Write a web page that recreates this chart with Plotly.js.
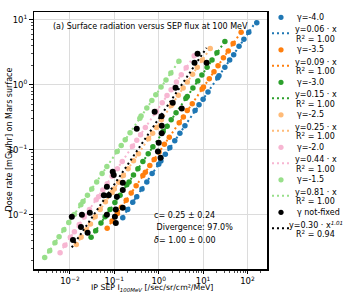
<!DOCTYPE html>
<html><head><meta charset="utf-8">
<script src="https://cdn.plot.ly/plotly-3.0.1.min.js"></script>
<style>html,body{margin:0;padding:0;background:#fff}#chart{width:348px;height:293px}</style>
</head><body><div id="chart"></div>
<script>
// ---------- data ----------
const seriesNames = ['γ=-4.0', 'γ=-3.5', 'γ=-3.0', 'γ=-2.5', 'γ=-2.0', 'γ=-1.5'];
const seriesColors = ['#1f77b4', '#ff7f0e', '#2ca02c', '#ffbb78', '#f7b6d2', '#98df8a'];
const fitCoef = [0.06, 0.09, 0.15, 0.25, 0.44, 0.81];
const fitR2 = ['1.00', '1.00', '1.00', '1.00', '1.00', '1.00'];

const x_g40 = [162, 107, 83.1, 64.5, 48.9, 39.7, 30.9, 22.8, 21.4, 12.9, 10.0, 8.1, 6.6, 3.9, 3.0, 2.3, 1.78, 1.41, 1.12, 1.0, 0.71, 0.54, 0.42, 0.32, 0.26, 0.20, 0.155];
const y_g40 = [9.0, 6.4, 5.0, 3.9, 2.9, 2.4, 1.85, 1.37, 1.28, 0.77, 0.60, 0.49, 0.40, 0.234, 0.18, 0.138, 0.107, 0.085, 0.067, 0.060, 0.043, 0.032, 0.025, 0.019, 0.0156, 0.012, 0.0090];

const x_g35 = [72, 47.6, 36.9, 28.7, 21.7, 17.6, 13.8, 10.2, 9.5, 5.7, 4.4, 3.6, 2.9, 1.73, 1.34, 1.02, 0.79, 0.63, 0.50, 0.44, 0.31, 0.24, 0.185, 0.144, 0.117, 0.089, 0.069];
const y_g35 = [6.4, 4.3, 3.3, 2.6, 1.95, 1.58, 1.24, 0.92, 0.86, 0.51, 0.40, 0.32, 0.26, 0.156, 0.121, 0.092, 0.071, 0.057, 0.045, 0.040, 0.028, 0.0216, 0.0167, 0.013, 0.0105, 0.008, 0.0062];

const x_g30 = [31, 20.5, 15.9, 12.3, 9.4, 7.6, 5.9, 4.4, 4.1, 2.46, 1.91, 1.55, 1.26, 0.74, 0.58, 0.44, 0.34, 0.27, 0.215, 0.191, 0.135, 0.103, 0.080, 0.062, 0.050, 0.038, 0.030];
const y_g30 = [4.6, 3.1, 2.4, 1.85, 1.41, 1.14, 0.89, 0.66, 0.62, 0.37, 0.29, 0.23, 0.19, 0.111, 0.087, 0.066, 0.051, 0.041, 0.032, 0.029, 0.020, 0.0155, 0.012, 0.0093, 0.0075, 0.0057, 0.0045];

const x_g25 = [14.5, 9.6, 7.4, 5.8, 4.4, 3.55, 2.77, 2.04, 1.91, 1.15, 0.89, 0.73, 0.59, 0.35, 0.27, 0.204, 0.160, 0.126, 0.100, 0.089, 0.063, 0.048, 0.037, 0.029, 0.0235, 0.0178, 0.0139];
const y_g25 = [3.6, 2.4, 1.85, 1.45, 1.1, 0.89, 0.69, 0.51, 0.48, 0.29, 0.22, 0.18, 0.148, 0.087, 0.068, 0.051, 0.040, 0.0315, 0.025, 0.022, 0.0158, 0.012, 0.0093, 0.0072, 0.0059, 0.0045, 0.0035];

const x_g20 = [6.3, 4.16, 3.23, 2.51, 1.90, 1.54, 1.20, 0.89, 0.83, 0.50, 0.39, 0.32, 0.256, 0.151, 0.117, 0.089, 0.069, 0.055, 0.044, 0.039, 0.0275, 0.0209, 0.0162, 0.0126, 0.0102, 0.0077, 0.006];
const y_g20 = [2.8, 1.83, 1.42, 1.1, 0.84, 0.68, 0.53, 0.39, 0.37, 0.22, 0.17, 0.14, 0.113, 0.066, 0.051, 0.039, 0.030, 0.024, 0.019, 0.017, 0.0121, 0.0092, 0.0071, 0.0055, 0.0045, 0.0034, 0.0026];

const x_g15 = [2.85, 1.88, 1.46, 1.13, 0.86, 0.70, 0.54, 0.40, 0.376, 0.226, 0.176, 0.143, 0.116, 0.068, 0.053, 0.040, 0.031, 0.0248, 0.0197, 0.0176, 0.0125, 0.0094, 0.0073, 0.0057, 0.0046, 0.0035, 0.0027];
const y_g15 = [2.3, 1.52, 1.18, 0.92, 0.70, 0.57, 0.44, 0.33, 0.305, 0.183, 0.143, 0.116, 0.094, 0.055, 0.043, 0.032, 0.025, 0.020, 0.016, 0.0143, 0.0101, 0.0076, 0.0059, 0.0046, 0.0037, 0.0028, 0.0022];

const x_free = [7.5, 6.4, 12, 2.4, 2.07, 3.3, 1.16, 0.81, 0.32, 1.17, 1.17, 1.0, 0.96, 1.1, 0.092, 0.097, 0.155, 0.155, 0.068, 0.058, 0.075, 0.114, 0.155, 0.108, 0.068, 0.103, 0.108, 0.028, 0.0186, 0.011, 0.025, 0.0177, 0.0117];
const y_free = [3.0, 2.18, 2.18, 0.90, 0.53, 0.43, 0.326, 0.385, 0.21, 0.234, 0.18, 0.128, 0.094, 0.075, 0.046, 0.041, 0.031, 0.024, 0.027, 0.020, 0.020, 0.019, 0.0128, 0.012, 0.010, 0.0093, 0.0075, 0.0107, 0.010, 0.0093, 0.0053, 0.0065, 0.0041];
const freeName = 'γ not-fixed';
const freeFitA = 0.30, freeFitB = 1.01, freeR2 = '0.94';

const seriesX = [x_g40, x_g35, x_g30, x_g25, x_g20, x_g15];
const seriesY = [y_g40, y_g35, y_g30, y_g25, y_g20, y_g15];

const xTickVals = [0.01, 0.1, 1, 10, 100];
const xTickText = ['10<sup>−2</sup>', '10<sup>−1</sup>', '10<sup>0</sup>', '10<sup>1</sup>', '10<sup>2</sup>'];
const yTickVals = [0.01, 0.1, 1, 10];
const yTickText = ['10<sup>−2</sup>', '10<sup>−1</sup>', '10<sup>0</sup>', '10<sup>1</sup>'];

const titleText = '(a) Surface radiation versus SEP flux at 100 MeV';
const xTitle = 'IP SEP I<sub><i>100MeV</i></sub> [/sec/sr/cm²/MeV]';
const yTitle = 'Dose rate [mGy/hr] on Mars surface';
const statsLines = ['c= 0.25 ± 0.24', 'Divergence: 97.0%', '<i>δ</i>= 1.00 ± 0.00'];

// ---------- geometry ----------
const W = 348, H = 293;
const PL = 34, PR = 267, PT = 12, PB = 269;
const px2paperX = p => (p - PL) / (PR - PL);
const py2paperY = p => (PB - p) / (PB - PT);
const FONT = 'DejaVu Sans, Verdana, sans-serif';
const DOT = '2px,3px';

const traces = [];
const shapes = [];
const annotations = [];

function addLegendPair(i, name, color, fitText) {
  const rowM = 17.3 + 32.5 * i;
  const rowL = 33.3 + 32.5 * i;
  shapes.push({type: 'circle', xref: 'paper', yref: 'paper', xsizemode: 'pixel', ysizemode: 'pixel',
    xanchor: px2paperX(281), yanchor: py2paperY(rowM), x0: -2.6, x1: 2.6, y0: -2.6, y1: 2.6,
    fillcolor: color, line: {width: 0}});
  shapes.push({type: 'line', xref: 'paper', yref: 'paper', x0: px2paperX(272), x1: px2paperX(290),
    y0: py2paperY(rowL), y1: py2paperY(rowL), line: {color: color, width: 2, dash: DOT}});
  annotations.push({xref: 'paper', yref: 'paper', x: px2paperX(295), y: py2paperY(rowM),
    xanchor: 'left', yanchor: 'middle', showarrow: false, text: name,
    font: {family: FONT, size: 8, color: '#000'}});
  annotations.push({xref: 'paper', yref: 'paper', x: px2paperX(315.5), y: py2paperY(rowL - 3.5),
    xanchor: 'center', yanchor: 'middle', showarrow: false, text: fitText[0],
    font: {family: FONT, size: 8, color: '#000'}});
  annotations.push({xref: 'paper', yref: 'paper', x: px2paperX(315.5), y: py2paperY(rowL + 5.5),
    xanchor: 'center', yanchor: 'middle', showarrow: false, text: fitText[1],
    font: {family: FONT, size: 8, color: '#000'}});
}

seriesNames.forEach((nm, i) => {
  const xs = seriesX[i], ys = seriesY[i];
  traces.push({x: xs, y: ys, type: 'scatter', mode: 'markers', name: nm, showlegend: false,
    marker: {color: seriesColors[i], size: 5.5, line: {width: 0}}});
  const xmin = Math.min(...xs), xmax = Math.max(...xs);
  traces.push({x: [xmin, xmax], y: [fitCoef[i] * xmin, fitCoef[i] * xmax], type: 'scatter', mode: 'lines',
    showlegend: false, line: {color: seriesColors[i], width: 2, dash: DOT}});
  addLegendPair(i, nm, seriesColors[i], ['y=' + fitCoef[i].toFixed(2) + ' · x', 'R<sup>2</sup> = ' + fitR2[i]]);
});

traces.push({x: x_free, y: y_free, type: 'scatter', mode: 'markers', name: freeName, showlegend: false,
  marker: {color: '#000', size: 6, line: {width: 0}}});
(function () {
  const xmin = Math.min(...x_free), xmax = Math.max(...x_free);
  traces.push({x: [xmin, xmax], y: [freeFitA * Math.pow(xmin, freeFitB), freeFitA * Math.pow(xmax, freeFitB)],
    type: 'scatter', mode: 'lines', showlegend: false, line: {color: '#000', width: 2, dash: DOT}});
})();
addLegendPair(6, freeName, '#000', ['y=' + freeFitA.toFixed(2) + ' · x<sup><i>' + freeFitB.toFixed(2) + '</i></sup>', 'R<sup>2</sup> = ' + freeR2]);

annotations.push({xref: 'paper', yref: 'paper', x: 0.5, y: py2paperY(26), xanchor: 'center', yanchor: 'middle',
  showarrow: false, text: titleText, font: {family: FONT, size: 8, color: '#000'}});
const statsX = [152, 152, 152];
const statsY = [215, 227.5, 240];
statsLines.forEach((t, k) => annotations.push({xref: 'paper', yref: 'paper', x: px2paperX(statsX[k]), y: py2paperY(statsY[k]),
  xanchor: 'left', yanchor: 'middle', showarrow: false, text: (k === 1 ? '\u00a0' : '') + t,
  font: {family: FONT, size: 8, color: '#000'}}));

// axis titles
annotations.push({xref: 'paper', yref: 'paper', x: px2paperX(152), y: py2paperY(288), xanchor: 'center', yanchor: 'middle',
  showarrow: false, text: xTitle, font: {family: FONT, size: 7.8, color: '#000'}});
annotations.push({xref: 'paper', yref: 'paper', x: px2paperX(8.5), y: py2paperY(140), xanchor: 'center', yanchor: 'middle',
  textangle: -90, showarrow: false, text: yTitle, font: {family: FONT, size: 8, color: '#000'}});

const axisCommon = {
  type: 'log', showgrid: true, gridcolor: '#dcdcdc', gridwidth: 1, zeroline: false,
  tickmode: 'array', ticks: 'outside', ticklen: 3.5, tickwidth: 1, tickcolor: '#000',
  showline: true, linecolor: '#000', linewidth: 1.5, mirror: true,
  tickfont: {family: FONT, size: 8.5, color: '#000'},
  minor: {ticks: 'outside', ticklen: 2, tickwidth: 0.7, tickcolor: '#000', dtick: 'D1', showgrid: false}
};

const layout = {
  width: W, height: H,
  margin: {l: PL, r: W - PR, t: PT, b: H - PB, pad: 0},
  paper_bgcolor: '#fff', plot_bgcolor: '#fff', showlegend: false,
  font: {family: FONT, color: '#000'},
  xaxis: Object.assign({}, axisCommon, {range: [-2.81, 2.44], tickvals: xTickVals, ticktext: xTickText}),
  yaxis: Object.assign({}, axisCommon, {range: [-2.834, 1.118], tickvals: yTickVals, ticktext: yTickText}),
  shapes: shapes,
  annotations: annotations
};

Plotly.newPlot('chart', traces, layout, {displayModeBar: false, staticPlot: true});
</script>
</body></html>
